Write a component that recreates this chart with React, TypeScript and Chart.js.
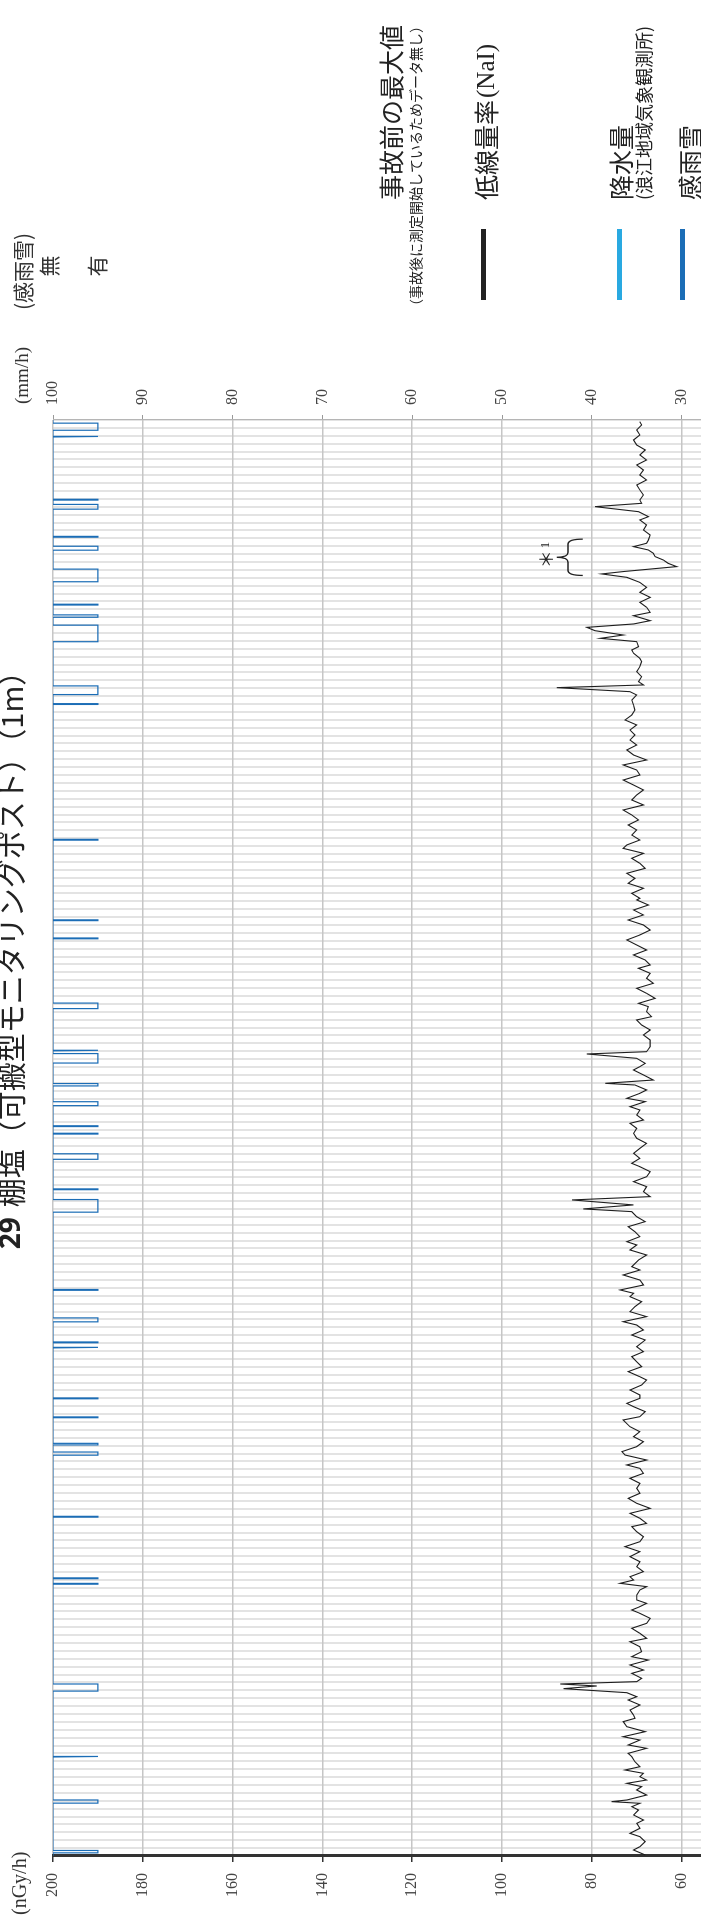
import React, { useEffect, useRef } from 'react';
import { Chart, registerables } from 'chart.js';

Chart.register(...registerables);

// ---- Data (x = days from start of the half-year period; 182 daily gridlines) ----
const DAY_COUNT = 182;
const TITLE_NUM = '29';
const TITLE_TEXT = '棚塩（可搬型モニタリングポスト）（1m）';

// low dose rate (NaI), nGy/h — readings (day, value)
const doseDays: number[] = [
  0.13, 0.76, 1.18, 1.82, 2.45, 2.87, 3.51, 4.14, 4.56, 5.2, 5.83, 6.25, 6.68, 6.89, 7.1, 7.73, 8.37, 8.79, 9.21, 9.63,
  10.05, 10.48, 10.9, 11.32, 11.96, 12.59, 13.01, 13.65, 14.07, 14.7, 15.12, 15.76, 16.39, 17.03, 17.45, 17.87, 18.5, 19.14, 19.77, 20.19,
  20.7, 21.21, 21.55, 21.8, 22.1, 22.52, 23.15, 23.57, 24.21, 24.84, 25.26, 25.9, 26.53, 27.16, 27.59, 28.22, 28.86, 29.49,
  30.12, 30.76, 31.18, 31.6, 32.02, 32.45, 33.08, 33.71, 34.14, 34.56, 34.98, 35.4, 36.04, 36.67, 37.3, 37.94, 38.57, 39.21, 39.84,
  40.47, 41.11, 41.74, 42.16, 42.8, 43.43, 44.06, 44.7, 45.33, 45.97, 46.6, 47.23, 47.87, 48.5, 49.13, 49.56, 50.19, 50.82, 51.25, 51.88,
  52.51, 53.15, 53.78, 54.41, 55.26, 55.68, 56.32, 56.95, 57.37, 58.01, 58.43, 59.06, 59.7, 60.33,
  60.75, 61.39, 62.02, 62.65, 63.29, 63.92, 64.55, 65.4, 66.03, 66.67, 67.3, 67.72, 68.36, 68.99, 69.62, 70.26, 70.89, 71.32, 71.74,
  72.37, 73.0, 73.64, 74.27, 74.69, 75.54, 76.17, 76.81, 77.44, 77.86, 78.5, 79.13, 79.76, 80.4, 81.03, 81.67, 82.01, 82.52, 83.15,
  83.57, 84.2, 84.83, 85.47, 86.1, 86.73, 87.37, 87.79, 88.42, 89.06, 89.69, 90.32,
  90.96, 91.59, 92.23, 92.86, 93.28, 93.92, 94.55, 94.97, 95.61, 96.03, 96.66, 97.09, 97.72, 97.93, 98.35, 98.99, 99.62, 100.04, 100.46,
  101.1, 101.65, 101.94, 102.58, 103.42, 104.06, 104.69, 105.32, 105.96, 106.38, 107.01, 107.65, 108.07, 108.7, 109.34, 109.97, 110.61,
  111.24, 111.87, 112.51, 112.93, 113.56, 114.2, 114.83, 115.46, 116.1, 116.73, 117.36, 118.0, 118.63, 119.27, 119.9, 120.53, 121.17,
  121.38, 122.01, 122.65, 123.28, 123.91, 124.55, 125.18, 125.81, 126.45, 127.08, 127.71, 128.14, 128.77, 129.4, 130.04, 130.67, 131.31,
  131.94, 132.57, 133.21, 133.84, 134.47, 135.11, 135.74, 136.37, 137.01, 137.64, 138.28, 138.91, 139.54, 140.18, 140.81, 141.44, 142.08,
  142.71, 143.35, 143.98, 144.61, 145.25, 145.88, 146.51, 147.15, 147.57, 148.08, 148.42, 148.84, 149.47, 150.11, 150.74, 151.37,
  151.8, 152.43, 152.85, 153.27, 153.91, 154.33, 154.75, 155.3, 155.72, 156.15, 156.57, 157.2, 157.62, 158.26, 158.89, 159.52, 160.16,
  160.79, 161.42, 162.06, 162.49, 162.79, 163.42, 163.84, 164.26, 164.69, 165.11, 165.53, 165.95, 166.38, 166.8, 167.43, 168.06, 168.7,
  169.33, 169.75, 170.38, 171.02, 171.44, 171.86, 172.5, 173.13, 173.76, 174.4, 175.03, 175.66, 176.3, 176.93, 177.57, 178.2, 178.83,
  179.47, 180.1, 180.73, 181.37, 181.79,
];
const doseValues: number[] = [
  68.1, 70.7, 69.3, 68.1, 69.3, 71.5, 69.3, 70.0, 68.5, 70.7, 69.6, 71.1, 69.3, 75.6, 72.2, 67.8, 70.0, 68.9, 72.2, 67.8,
  69.3, 68.5, 72.6, 69.3, 70.4, 71.1, 71.9, 67.8, 71.9, 69.3, 73.0, 68.1, 72.2, 73.0, 70.4, 70.7, 71.5, 69.3, 71.9, 70.0,
  72.2, 86.3, 78.9, 87.0, 70.0, 68.9, 71.1, 68.5, 71.5, 67.4, 71.1, 68.9, 69.3, 71.5, 67.8, 69.3, 71.1, 67.8,
  67.0, 69.3, 71.1, 69.3, 67.8, 70.0, 70.0, 69.3, 67.8, 73.7, 70.7, 71.5, 68.5, 70.0, 69.3, 71.5, 69.3, 72.6, 69.3,
  68.5, 70.0, 71.1, 67.8, 69.3, 71.5, 67.0, 70.0, 71.9, 69.3, 70.0, 69.3, 71.5, 68.5, 69.3, 72.2, 67.8, 72.6, 73.3, 70.0,
  68.5, 70.7, 69.3, 71.5, 73.0, 69.3, 68.1, 70.7, 72.2, 69.3, 69.3, 71.5, 68.9, 67.8,
  69.3, 71.9, 68.9, 70.0, 71.1, 68.5, 70.0, 68.1, 71.1, 68.5, 70.0, 73.0, 67.8, 71.5, 70.4, 68.9, 71.5, 70.7, 73.7,
  68.5, 69.3, 73.0, 69.3, 71.1, 69.6, 67.8, 71.5, 70.0, 72.2, 69.3, 70.4, 71.9, 68.1, 70.0, 71.1, 81.9, 70.7, 84.4,
  67.0, 68.5, 67.8, 70.7, 67.8, 67.0, 69.3, 71.1, 69.3, 70.7, 69.3, 67.8,
  70.0, 70.7, 70.0, 71.5, 68.5, 70.0, 69.3, 71.5, 68.1, 72.2, 69.3, 67.8, 70.4, 77.0, 66.3, 68.5, 70.7, 69.3, 68.1,
  70.0, 81.1, 67.8, 67.0, 67.0, 68.5, 67.0, 68.9, 70.0, 66.7, 67.8, 67.4, 69.6, 65.9, 67.8, 70.0, 66.3,
  67.8, 67.0, 69.6, 67.0, 68.1, 70.7, 67.8, 70.0, 72.2, 69.3, 67.0, 68.5, 71.9, 68.5, 70.7, 67.4, 70.0,
  69.3, 71.1, 68.5, 71.9, 70.4, 72.2, 68.1, 69.3, 71.1, 68.5, 73.0, 72.2, 69.3, 71.1, 70.0, 71.9, 69.6,
  71.1, 73.0, 68.5, 71.1, 70.0, 68.5, 70.7, 73.0, 69.3, 70.0, 73.0, 67.8, 70.7, 72.2, 70.0, 71.5, 70.4,
  71.5, 70.0, 72.6, 71.1, 70.4, 70.7, 71.1, 70.0, 71.5, 87.8, 68.5, 69.6, 68.9, 70.0, 69.3, 68.9,
  69.3, 70.7, 71.1, 69.6, 70.0, 78.1, 73.0, 79.3, 81.1, 70.7, 67.0, 70.7, 67.0, 67.8, 69.3, 67.0, 69.3,
  67.8, 69.3, 72.2, 77.8, 73.0, 61.1, 63.0, 64.1, 65.9, 66.3, 67.4, 70.7, 67.8, 67.4, 67.0, 68.5, 67.8,
  69.3, 67.4, 69.6, 79.3, 68.9, 69.3, 68.5, 69.3, 70.0, 67.8, 69.3, 68.5, 70.0, 67.8, 69.3, 68.1, 70.0,
  70.7, 69.3, 70.0, 68.9, 69.3,
];

// rain/snow sensor (感雨雪) "有" periods, in days
const rainStart: number[] = [
  0.4, 6.7, 12.55, 20.9, 34.45, 35.15, 42.95, 50.8, 52.1, 55.55,
  57.95, 64.4, 65.05, 67.7, 71.7, 81.6, 84.45, 88.3, 91.5, 92.45,
  95.1, 97.6, 100.5, 102.05, 107.4, 116.25, 118.55, 128.75, 145.95, 147.2,
  153.9, 157.0, 158.55, 161.5, 165.5, 167.15, 170.7, 171.85, 179.85, 180.7,
];
const rainEnd: number[] = [
  0.7, 7.1, 12.65, 21.8, 34.55, 35.25, 43.05, 51.2, 52.3, 55.65,
  58.05, 64.5, 65.15, 68.2, 71.8, 83.2, 84.55, 89.0, 91.6, 92.55,
  95.6, 97.9, 101.7, 102.15, 108.1, 116.35, 118.65, 128.85, 146.05, 148.3,
  156.0, 157.3, 158.65, 163.1, 166.0, 167.25, 171.3, 171.95, 179.95, 181.6,
];

// "*1" annotation: bracketed day range and bracket levels (nGy/h)
const noteRange: number[] = [162.3, 166.9];
const noteLevels: number[] = [82.0, 85.3, 87.8, 90.2]; // tips, spine, point, text

const legendLabels: string[] = ['事故前の最大値', '低線量率', '降水量', '感雨雪'];
const legendSubLabels: string[] = ['（事故後に測定開始しているためデータ無し）', '(浪江地域気象観測所)'];

const W = 1919; // unrotated chart width (becomes page height)
const H = 1000; // unrotated chart height (page shows first 701px)

const CJK = '"Noto Sans CJK JP", "Noto Sans", sans-serif';
const SERIF = '"Liberation Serif", "DejaVu Serif", serif';

const overlayPlugin = {
  id: 'overlay',
  afterDraw(chart: any) {
    const ctx: CanvasRenderingContext2D = chart.ctx;
    const xs = chart.scales.x;
    const ys = chart.scales.y;
    ctx.save();
    ctx.fillStyle = '#222';
    ctx.textBaseline = 'middle';
    ctx.textAlign = 'left';

    // Title
    const numFont = `bold 28px "Noto Sans", sans-serif`;
    const txtFont = `29px ${CJK}`;
    ctx.font = numFont;
    const wNum = ctx.measureText(TITLE_NUM).width;
    ctx.font = txtFont;
    const wTxt = ctx.measureText(TITLE_TEXT).width;
    const gap = 10;
    const total = wNum + gap + wTxt;
    const tStart = 966 - total / 2;
    const tY = 12;
    ctx.font = numFont;
    ctx.fillText(TITLE_NUM, tStart, tY);
    ctx.font = txtFont;
    ctx.fillText(TITLE_TEXT, tStart + wNum + gap, tY);

    // axis unit labels
    ctx.font = `20px ${SERIF}`;
    ctx.fillStyle = '#333';
    ctx.fillText('(nGy/h)', 4, 21);
    ctx.font = `19px ${SERIF}`;
    ctx.fillText('(mm/h)', 1515, 23);
    ctx.font = `21px ${CJK}`;
    ctx.fillText('(感雨雪)', 1609, 23);
    ctx.textAlign = 'center';
    ctx.fillText('無', 1653, 49);
    ctx.fillText('有', 1653, 97);
    ctx.textAlign = 'left';

    // Legend
    const lx = 1719;
    ctx.fillStyle = '#222';
    ctx.font = `25px ${CJK}`;
    ctx.fillText(legendLabels[0], lx, 391);
    ctx.font = `14px ${CJK}`;
    ctx.fillText(legendSubLabels[0], 1606, 416);

    ctx.font = `25px ${CJK}`;
    ctx.fillText(legendLabels[1], lx, 486);
    const wl = ctx.measureText(legendLabels[1]).width;
    ctx.font = `25px ${SERIF}`;
    ctx.fillText('(NaI)', lx + wl + 2, 487);
    ctx.fillRect(1619, 481, 71, 5);

    ctx.font = `25px ${CJK}`;
    ctx.fillText(legendLabels[2], lx, 621);
    ctx.font = `18px ${CJK}`;
    ctx.fillText(legendSubLabels[1], lx, 644);
    ctx.fillStyle = '#29a9e1';
    ctx.fillRect(1619, 617, 71, 5);

    ctx.fillStyle = '#222';
    ctx.font = `25px ${CJK}`;
    ctx.fillText(legendLabels[3], lx, 690);
    ctx.fillStyle = '#1b6db6';
    ctx.fillRect(1619, 680, 71, 5);

    // "*1" bracket annotation
    const xa = xs.getPixelForValue(noteRange[0]);
    const xb = xs.getPixelForValue(noteRange[1]);
    const xm = (xa + xb) / 2;
    const yTip = ys.getPixelForValue(noteLevels[0]);
    const ySp = ys.getPixelForValue(noteLevels[1]);
    const yPt = ys.getPixelForValue(noteLevels[2]);
    const yTx = ys.getPixelForValue(noteLevels[3]);
    const r = 5;
    ctx.strokeStyle = '#222';
    ctx.lineWidth = 1.3;
    ctx.beginPath();
    ctx.moveTo(xa, yTip);
    ctx.quadraticCurveTo(xa, ySp, xa + r, ySp);
    ctx.lineTo(xm - r, ySp);
    ctx.quadraticCurveTo(xm, ySp, xm, yPt);
    ctx.quadraticCurveTo(xm, ySp, xm + r, ySp);
    ctx.lineTo(xb - r, ySp);
    ctx.quadraticCurveTo(xb, ySp, xb, yTip);
    ctx.stroke();
    ctx.fillStyle = '#222';
    ctx.font = `18px ${CJK}`;
    ctx.fillText('＊', xm - 11, yTx);
    ctx.font = `13px ${SERIF}`;
    ctx.fillText('1', xm + 9, yTx);

    ctx.restore();
  },
};

export default function App() {
  const ref = useRef<HTMLCanvasElement>(null);

  useEffect(() => {
    const canvas = ref.current;
    if (!canvas) return;

    const dosePts = doseDays.map((d, i) => ({ x: d, y: doseValues[i] }));

    const rainPts: { x: number; y: number }[] = [{ x: 0, y: 0 }];
    rainStart.forEach((s, i) => {
      const e = rainEnd[i];
      rainPts.push({ x: s, y: 0 }, { x: s, y: 1 }, { x: e, y: 1 }, { x: e, y: 0 });
    });
    rainPts.push({ x: DAY_COUNT, y: 0 });

    const tickFont = { family: SERIF, size: 16 };

    const chart = new Chart(canvas, {
      type: 'line',
      data: {
        datasets: [
          {
            label: '感雨雪',
            data: rainPts,
            yAxisID: 'ySnow',
            borderColor: '#1b6db6',
            borderWidth: 1.2,
            pointRadius: 0,
            tension: 0,
            fill: false,
          },
          {
            label: '低線量率(NaI)',
            data: dosePts,
            yAxisID: 'y',
            borderColor: '#1e1e1e',
            borderWidth: 1.1,
            pointRadius: 0,
            tension: 0,
            fill: false,
          },
        ],
      },
      options: {
        animation: false,
        responsive: false,
        devicePixelRatio: 1,
        layout: { padding: { top: 53, left: 0, right: 0, bottom: 0 } },
        plugins: {
          legend: { display: false },
          title: { display: false },
          tooltip: { enabled: false },
        },
        scales: {
          x: {
            type: 'linear',
            min: 0,
            max: DAY_COUNT,
            ticks: { display: false, stepSize: 1 },
            grid: { color: '#e3e3e3', lineWidth: 2, drawTicks: false },
            border: { display: false },
            afterFit: (s: any) => {
              s.height = 49;
            },
          },
          y: {
            position: 'left',
            min: 0,
            max: 200,
            ticks: { stepSize: 20, font: tickFont, color: '#444', padding: 11 },
            grid: { color: '#c6c6c6', lineWidth: 1.5, tickLength: 6, tickColor: '#333', tickWidth: 1.5 },
            border: { color: '#333', width: 3 },
            afterFit: (s: any) => {
              s.width = 63;
            },
          },
          y2: {
            position: 'right',
            min: 0,
            max: 100,
            ticks: { stepSize: 10, font: tickFont, color: '#444', padding: 10 },
            grid: { drawOnChartArea: false, tickLength: 5, tickColor: '#999' },
            border: { color: '#b5b5b5', width: 1 },
            afterFit: (s: any) => {
              s.width = W - 1499;
            },
          },
          ySnow: {
            display: false,
            min: 0,
            max: 20,
            reverse: true,
          },
        },
      } as any,
      plugins: [overlayPlugin],
    });

    return () => chart.destroy();
  }, []);

  return (
    <div
      style={{
        position: 'fixed',
        left: 0,
        top: 0,
        width: 701,
        height: 1919,
        overflow: 'hidden',
        background: '#fff',
      }}
    >
      <div
        style={{
          position: 'absolute',
          left: 0,
          top: 0,
          width: W,
          height: H,
          transformOrigin: '0 0',
          transform: `translateY(${W}px) rotate(-90deg)`,
        }}
      >
        <canvas ref={ref} width={W} height={H} style={{ display: 'block', width: W, height: H }} />
      </div>
    </div>
  );
}
